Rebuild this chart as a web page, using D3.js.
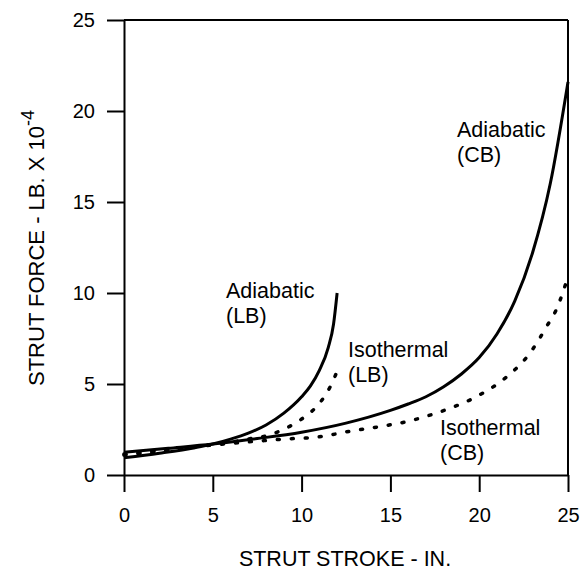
<!DOCTYPE html>
<html>
<head>
<meta charset="utf-8">
<script src="https://cdn.jsdelivr.net/npm/d3@7"></script>
<style>
  html, body { margin: 0; padding: 0; background: #fff; }
  svg { display: block; }
  text { font-family: "Liberation Sans", Arial, Helvetica, sans-serif; fill: #000; }
</style>
</head>
<body>
<svg id="chart" width="581" height="576"></svg>
<script>
// ---- data (stroke in inches, force in lb x 10^-4) ----
const xTicks = [0, 5, 10, 15, 20, 25];
const yTicks = [0, 5, 10, 15, 20, 25];

const adiabaticLB_x = [0, 2, 4, 5, 6, 7, 8, 9, 10, 10.5, 11, 11.5, 11.8, 12];
const adiabaticLB_y = [0.95, 1.2, 1.5, 1.7, 1.97, 2.3, 2.75, 3.4, 4.3, 4.9, 5.75, 7.0, 8.3, 10.0];

const isothermalLB_x = [0, 2, 4, 5, 6, 7, 8, 8.56, 9.38, 10.19, 11.04, 11.6, 12];
const isothermalLB_y = [1.1, 1.3, 1.55, 1.68, 1.8, 1.98, 2.15, 2.33, 2.7, 3.21, 3.98, 4.83, 5.7];

const adiabaticCB_x = [0, 2.5, 5, 7.5, 10, 12.5, 15, 16, 17, 18, 19, 20, 21, 22, 23, 24, 25];
const adiabaticCB_y = [1.25, 1.47, 1.7, 2.0, 2.35, 2.85, 3.55, 3.9, 4.3, 4.85, 5.55, 6.45, 7.75, 9.55, 12.2, 16.0, 21.6];

const isothermalCB_x = [0, 2, 4, 5, 7, 9, 11, 12.7, 14.4, 16, 17, 18.5, 19.5, 20.2, 21.1, 21.9, 22.7, 23.3, 23.8, 24.3, 24.7, 25];
const isothermalCB_y = [1.15, 1.35, 1.55, 1.65, 1.82, 1.97, 2.1, 2.4, 2.66, 2.95, 3.22, 3.72, 4.13, 4.5, 5.05, 5.69, 6.5, 7.34, 8.17, 9.0, 10.0, 10.9];

const seriesNames = ["Adiabatic (LB)", "Isothermal (LB)", "Adiabatic (CB)", "Isothermal (CB)"];

// ---- drawing ----
const svg = d3.select("#chart");
const x = d3.scaleLinear().domain([0, 25]).range([124, 568]);
const y = d3.scaleLinear().domain([0, 25]).range([475, 20]);

const zip = (xs, ys) => xs.map((v, i) => [v, ys[i]]);
const series = [
  { name: seriesNames[0], pts: zip(adiabaticLB_x, adiabaticLB_y), dotted: false },
  { name: seriesNames[1], pts: zip(isothermalLB_x, isothermalLB_y), dotted: true },
  { name: seriesNames[2], pts: zip(adiabaticCB_x, adiabaticCB_y), dotted: false },
  { name: seriesNames[3], pts: zip(isothermalCB_x, isothermalCB_y), dotted: true }
];

// frame (top and right)
svg.append("line").attr("x1", x(0)).attr("x2", x(25)).attr("y1", y(25)).attr("y2", y(25))
  .attr("stroke", "#000").attr("stroke-width", 2);
svg.append("line").attr("x1", x(25)).attr("x2", x(25)).attr("y1", y(25)).attr("y2", y(0))
  .attr("stroke", "#000").attr("stroke-width", 2);

const xAxis = svg.append("g").attr("transform", `translate(0,${y(0)})`)
  .call(d3.axisBottom(x).tickValues(xTicks).tickSize(17).tickSizeOuter(0).tickPadding(16));
const yAxis = svg.append("g").attr("transform", `translate(${x(0)},0)`)
  .call(d3.axisLeft(y).tickValues(yTicks).tickSize(17).tickSizeOuter(0).tickPadding(12));

[xAxis, yAxis].forEach(g => {
  g.selectAll("path.domain").attr("stroke", "#000").attr("stroke-width", 2);
  g.selectAll(".tick line").attr("stroke", "#000").attr("stroke-width", 2);
  g.selectAll(".tick text").attr("font-size", 20).attr("font-family", "Liberation Sans, Arial, sans-serif").attr("fill", "#000");
});

const line = d3.line().x(d => x(d[0])).y(d => y(d[1])).curve(d3.curveMonotoneX);
series.forEach(s => {
  svg.append("path").datum(s.pts)
    .attr("d", line)
    .attr("fill", "none")
    .attr("stroke", "#000")
    .attr("stroke-width", s.dotted ? 3.5 : 3)
    .attr("stroke-linecap", s.dotted ? "round" : "butt")
    .attr("stroke-dasharray", s.dotted ? "2 12" : null);
});

// curve labels
const labels = [
  { t1: "Adiabatic", t2: "(LB)", px: 226, py: 298 },
  { t1: "Isothermal", t2: "(LB)", px: 348, py: 357 },
  { t1: "Adiabatic", t2: "(CB)", px: 457, py: 137 },
  { t1: "Isothermal", t2: "(CB)", px: 440, py: 435 }
];
labels.forEach(l => {
  svg.append("text").attr("x", l.px).attr("y", l.py).attr("font-size", 21.5).text(l.t1);
  svg.append("text").attr("x", l.px).attr("y", l.py + 25).attr("font-size", 21.5).text(l.t2);
});

// axis titles
svg.append("text").attr("x", 345).attr("y", 566).attr("text-anchor", "middle")
  .attr("font-size", 21.5).text("STRUT STROKE - IN.");

const yt = svg.append("text").attr("transform", "translate(44,248) rotate(-90)")
  .attr("text-anchor", "middle").attr("font-size", 22);
yt.append("tspan").text("STRUT FORCE - LB. X 10");
yt.append("tspan").attr("dy", -10).attr("font-size", 18).text("-4");
</script>
</body>
</html>
